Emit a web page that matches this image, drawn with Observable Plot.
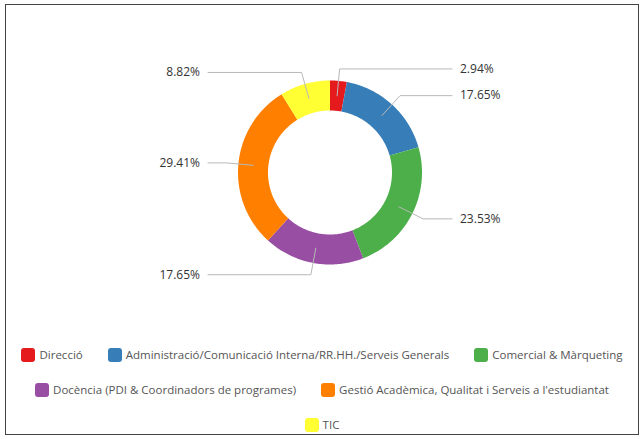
<!DOCTYPE html>
<html>
<head>
<meta charset="utf-8">
<script src="https://cdn.jsdelivr.net/npm/d3@7"></script>
<script src="https://cdn.jsdelivr.net/npm/@observablehq/plot@0.6"></script>
<style>
  html, body { margin: 0; padding: 0; background: #fff; }
  #wrap { position: relative; width: 644px; height: 439px; overflow: hidden; font-family: "Open Sans", sans-serif; }
  #frame { position: absolute; left: 5px; top: 4px; width: 634px; height: 431px; border: 1.5px solid #444; box-sizing: border-box; pointer-events: none; }
  #chart { position: absolute; left: 0; top: 0; }
  #legend { position: absolute; left: 12px; top: 337px; width: 620px; display: flex; flex-wrap: wrap; justify-content: center; column-gap: 25px; }
  .item { display: flex; align-items: center; height: 35px; font-size: 11.5px; color: #555; white-space: nowrap; }
  .sw { width: 14px; height: 14px; border-radius: 3px; margin-right: 4px; }
</style>
</head>
<body>
<div id="wrap">
  <div id="chart"></div>
  <div id="legend"></div>
  <div id="frame"></div>
</div>
<script>
const categories = [
  "Direcció",
  "Administració/Comunicació Interna/RR.HH./Serveis Generals",
  "Comercial & Màrqueting",
  "Docència (PDI & Coordinadors de programes)",
  "Gestió Acadèmica, Qualitat i Serveis a l'estudiantat",
  "TIC"
];
const percents = [2.94, 17.65, 23.53, 17.65, 29.41, 8.82];
const colors = ["#e41a1c", "#377eb8", "#4daf4a", "#984ea3", "#ff7f00", "#ffff33"];
const percentLabels = percents.map(p => p.toFixed(2) + "%");

// geometry (unit = outer radius)
const W = 644, H = 330, CX = 329.5, CY = 172, R = 92;
const rIn = 62 / 92, rMid = 77 / 92, rElbow = 104 / 92, xEnd = 122 / 92, xLabel = 130 / 92;

const total = d3.sum(percents);
let acc = 0;
const slices = percents.map((p, i) => {
  const a0 = acc / total * 2 * Math.PI;
  acc += p;
  const a1 = acc / total * 2 * Math.PI;
  return { cat: categories[i], a0, a1, mid: (a0 + a1) / 2, label: percentLabels[i] };
});
const pt = (r, a) => [r * Math.sin(a), r * Math.cos(a)];

const slicePts = [];
for (const s of slices) {
  const n = Math.max(4, Math.ceil((s.a1 - s.a0) / (Math.PI / 180)));
  for (let k = 0; k <= n; k++) {
    const a = s.a0 + (s.a1 - s.a0) * k / n;
    const [x, y] = pt(1, a);
    slicePts.push({ cat: s.cat, x, y });
  }
  for (let k = n; k >= 0; k--) {
    const a = s.a0 + (s.a1 - s.a0) * k / n;
    const [x, y] = pt(rIn, a);
    slicePts.push({ cat: s.cat, x, y });
  }
}

const leaderPts = [];
const labelRows = [];
for (const s of slices) {
  const right = Math.sin(s.mid) >= 0;
  const [x0, y0] = pt(rMid, s.mid);
  const [x1, y1] = pt(rElbow, s.mid);
  leaderPts.push({ cat: s.cat, x: x0, y: y0 });
  leaderPts.push({ cat: s.cat, x: x1, y: y1 });
  leaderPts.push({ cat: s.cat, x: right ? xEnd : -xEnd, y: y1 });
  labelRows.push({ right, x: right ? xLabel : -xLabel, y: y1, text: s.label });
}

const plot = Plot.plot({
  width: W,
  height: H,
  margin: 0,
  style: { fontFamily: "'Open Sans', sans-serif", fontSize: "12px", background: "transparent" },
  x: { domain: [-CX / R, (W - CX) / R], axis: null },
  y: { domain: [-(H - CY) / R, CY / R], axis: null },
  color: { domain: categories, range: colors },
  marks: [
    Plot.line(slicePts, { x: "x", y: "y", z: "cat", fill: "cat", stroke: null, curve: "linear" }),
    Plot.line(leaderPts, { x: "x", y: "y", z: "cat", stroke: "#b8b8b8", strokeWidth: 1 }),
    Plot.text(labelRows.filter(d => d.right), { x: "x", y: "y", text: "text", textAnchor: "start", fill: "#333", fontSize: 12 }),
    Plot.text(labelRows.filter(d => !d.right), { x: "x", y: "y", text: "text", textAnchor: "end", fill: "#333", fontSize: 12 })
  ]
});
document.getElementById("chart").appendChild(plot);

const legend = document.getElementById("legend");
categories.forEach((c, i) => {
  const item = document.createElement("div");
  item.className = "item";
  const sw = document.createElement("span");
  sw.className = "sw";
  sw.style.background = colors[i];
  const t = document.createElement("span");
  t.textContent = c;
  item.appendChild(sw);
  item.appendChild(t);
  legend.appendChild(item);
});
</script>
</body>
</html>
